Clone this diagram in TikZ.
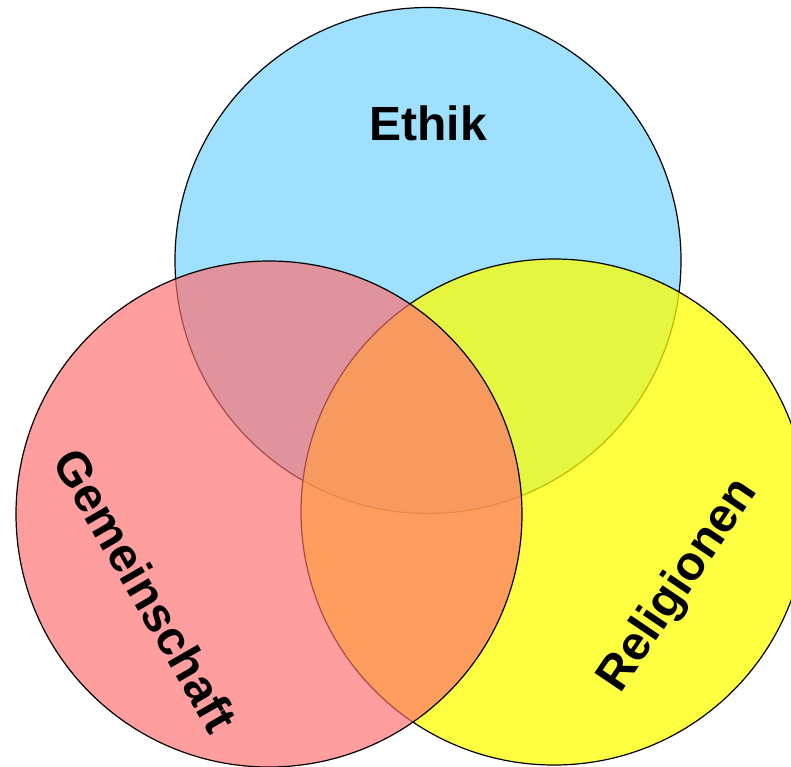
\documentclass[tikz,border=0pt]{standalone}
\usepackage{fontspec}
\setmainfont{Liberation Sans}
\definecolor{ethikblue}{RGB}{158,224,254}
\definecolor{relyellow}{RGB}{255,255,0}
\definecolor{gemred}{RGB}{255,110,110}
\tikzset{
  venn/.style={circle, minimum size=506pt, inner sep=0pt, draw=black, line width=1.2pt},
  lbl/.style={font=\fontsize{48}{52}\selectfont\bfseries, text=black, inner sep=0pt}
}
\begin{document}
\begin{tikzpicture}[x=1pt,y=1pt]
\useasboundingbox (0,0) rectangle (791,-766);
\begin{scope}
\clip (0,0) rectangle (791,-766);
\node[venn, fill=ethikblue] (ethik) at (428,-260.5) {};
\node[venn, fill=relyellow, fill opacity=0.74] (rel) at (554,-512) {};
\node[venn, fill=gemred, fill opacity=0.67] (gem) at (269,-514) {};
\end{scope}
\node[lbl] (tethik) at (428,-123) {Ethik};
\node[lbl, rotate=-60] (tgem) at (146,-590) {Gemeinschaft};
\node[lbl, rotate=56] (trel) at (679,-586) {Religionen};
\end{tikzpicture}
\end{document}
